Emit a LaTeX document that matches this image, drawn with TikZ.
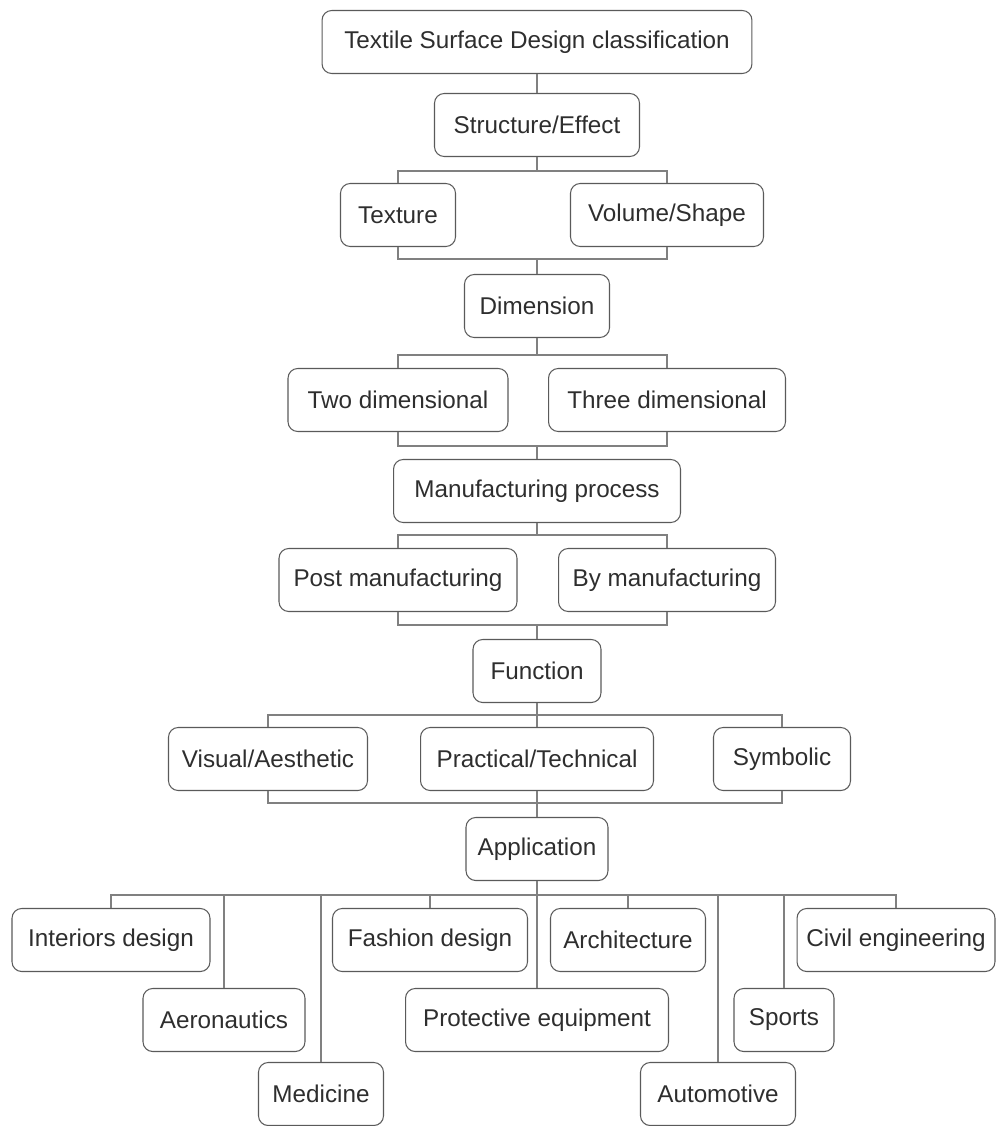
\documentclass[tikz,border=0pt]{standalone}
\usepackage{fontspec}
\setmainfont{Liberation Sans}
\usepackage{tikz}

\definecolor{boxgray}{HTML}{5A5A5A}
\definecolor{edgegray}{HTML}{808080}
\definecolor{txtgray}{HTML}{2E2E2E}

\begin{document}
\begin{tikzpicture}[x=0.02cm,y=-0.02cm,
                   box/.style={draw=boxgray,line width=0.6pt,rounded corners=5.5pt,
                     minimum height=1.26cm,inner xsep=4pt,text=txtgray,
                     font=\fontsize{13.8pt}{16pt}\selectfont},
                   link/.style={draw=edgegray,line width=0.6pt}]
\useasboundingbox (0,0) rectangle (1000,1126);

%% top of the tree
\node[box,minimum width=8.6cm]  (top)    at (537,42)  {Textile Surface Design classification};
\node[box,minimum width=4.1cm]  (struct) at (537,125) {Structure/Effect};
\node[box,minimum width=2.3cm]  (texture) at (398,215) {Texture};
\node[box,minimum width=3.86cm] (volume) at (667,215) {Volume/Shape};
\node[box,minimum width=2.9cm]  (dim)    at (537,306) {Dimension};
\node[box,minimum width=4.4cm]  (twod)   at (398,400) {Two dimensional};
\node[box,minimum width=4.74cm] (threed) at (667,400) {Three dimensional};
\node[box,minimum width=5.74cm] (manu)   at (537,491) {Manufacturing process};
\node[box,minimum width=4.76cm] (post)   at (398,580) {Post manufacturing};
\node[box,minimum width=4.34cm] (bymanu) at (667,580) {By manufacturing};
\node[box,minimum width=2.56cm] (func)   at (537,671) {Function};
\node[box,minimum width=3.98cm] (visual) at (268,759) {Visual/Aesthetic};
\node[box,minimum width=4.66cm] (practical) at (537,759) {Practical/Technical};
\node[box,minimum width=2.74cm] (symbolic) at (782,759) {Symbolic};
\node[box,minimum width=2.84cm] (app)    at (537,849) {Application};

%% applications
\node[box,minimum width=3.96cm] (interiors) at (111,940) {Interiors design};
\node[box,minimum width=3.9cm]  (fashion)  at (430,940) {Fashion design};
\node[box,minimum width=3.1cm]  (arch)     at (628,940) {Architecture};
\node[box,minimum width=3.96cm] (civil)    at (896,940) {Civil engineering};
\node[box,minimum width=3.24cm] (aero)     at (224,1020) {Aeronautics};
\node[box,minimum width=5.26cm] (protect)  at (537,1020) {Protective equipment};
\node[box,minimum width=2.0cm]  (sports)   at (784,1020) {Sports};
\node[box,minimum width=2.5cm]  (medicine) at (321,1094) {Medicine};
\node[box,minimum width=3.1cm]  (auto)     at (718,1094) {Automotive};

%% junctions of the brackets
\coordinate (s1) at (537,171);  \coordinate (m1) at (537,259);
\coordinate (s2) at (537,355);  \coordinate (m2) at (537,446);
\coordinate (s3) at (537,535);  \coordinate (m3) at (537,625);
\coordinate (s4) at (537,715);  \coordinate (m4) at (537,803);
\coordinate (s5) at (537,895);

\draw[link] (top) -- (struct);
\draw[link] (struct) -- (s1) -| (texture);
\draw[link] (s1) -| (volume);
\draw[link] (texture) |- (m1) -| (volume);
\draw[link] (m1) -- (dim);

\draw[link] (dim) -- (s2) -| (twod);
\draw[link] (s2) -| (threed);
\draw[link] (twod) |- (m2) -| (threed);
\draw[link] (m2) -- (manu);

\draw[link] (manu) -- (s3) -| (post);
\draw[link] (s3) -| (bymanu);
\draw[link] (post) |- (m3) -| (bymanu);
\draw[link] (m3) -- (func);

\draw[link] (func) -- (practical);
\draw[link] (visual) |- (s4) -| (symbolic);
\draw[link] (visual) |- (m4) -| (symbolic);
\draw[link] (practical) -- (app);

\draw[link] (app) -- (protect);
\draw[link] (interiors) |- (s5) -| (civil);
\draw[link] (s5) -| (aero);
\draw[link] (s5) -| (medicine);
\draw[link] (s5) -| (fashion);
\draw[link] (s5) -| (arch);
\draw[link] (s5) -| (auto);
\draw[link] (s5) -| (sports);
\end{tikzpicture}
\end{document}
